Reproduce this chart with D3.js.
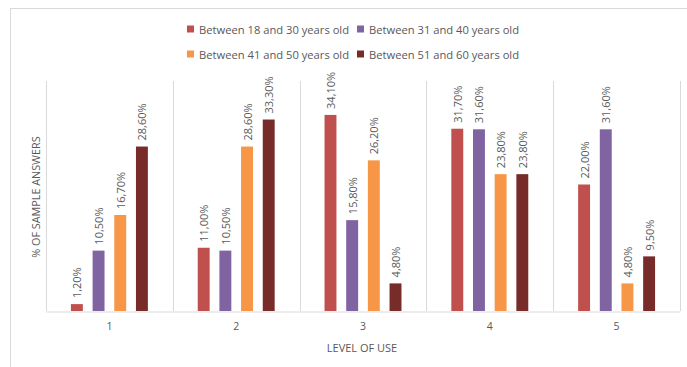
<!DOCTYPE html>
<html>
<head>
<meta charset="utf-8">
<script src="https://cdn.jsdelivr.net/npm/d3@7"></script>
<style>
  html, body { margin: 0; padding: 0; background: #ffffff; }
  svg { display: block; font-family: "Open Sans", "Liberation Sans", sans-serif; }
</style>
</head>
<body>
<svg id="chart" width="687" height="367"></svg>
<script>
// Level of use categories and age-group series
const levels = ["1", "2", "3", "4", "5"];
const seriesNames = [
  "Between 18 and 30 years old",
  "Between 31 and 40 years old",
  "Between 41 and 50 years old",
  "Between 51 and 60 years old"
];
const seriesColors = ["#C0504D", "#8064A2", "#F79646", "#772C2A"];

// Percentage of answers per age group, one value per level
const age18to30 = [1.2, 11.0, 34.1, 31.7, 22.0];
const age31to40 = [10.5, 10.5, 15.8, 31.6, 31.6];
const age41to50 = [16.7, 28.6, 26.2, 23.8, 4.8];
const age51to60 = [28.6, 33.3, 4.8, 23.8, 9.5];
const seriesValues = [age18to30, age31to40, age41to50, age51to60];

const yMax = 40;

const svg = d3.select("#chart");
const grid = "#d9d9d9";
const textColor = "#595959";

// Outer frame
svg.append("rect")
  .attr("x", 10.5).attr("y", 8.5)
  .attr("width", 720).attr("height", 400)
  .attr("fill", "none").attr("stroke", grid).attr("stroke-width", 1);

const plot = { left: 46, right: 680, top: 81, bottom: 311 };

const x0 = d3.scaleBand().domain(levels).range([plot.left, plot.right]).padding(0);
const x1 = d3.scaleBand().domain(d3.range(seriesNames.length))
  .range([0, x0.bandwidth()])
  .paddingInner(0.45).paddingOuter(1.15);
const y = d3.scaleLinear().domain([0, yMax]).range([plot.bottom, plot.top]);

// Category separators
const bounds = levels.map(l => x0(l)).concat([plot.right]);
svg.append("g").selectAll("line").data(bounds).join("line")
  .attr("x1", d => Math.round(d) + 0.5).attr("x2", d => Math.round(d) + 0.5)
  .attr("y1", plot.top).attr("y2", plot.bottom)
  .attr("stroke", grid).attr("stroke-width", 1);

// Bottom axis with category labels
const xAxis = svg.append("g")
  .attr("transform", `translate(0,${plot.bottom + 0.5})`)
  .call(d3.axisBottom(x0).tickSize(0).tickPadding(11));
xAxis.select(".domain").attr("stroke", grid);
xAxis.selectAll("text")
  .attr("fill", textColor)
  .style("font-size", "10.5px")
  .style("font-family", "'Open Sans', sans-serif");

// Bars and value labels
const rows = [];
levels.forEach((lvl, i) => {
  seriesValues.forEach((vals, s) => rows.push({ lvl, s, v: vals[i] }));
});

const fmt = v => v.toFixed(2).replace(".", ",") + "%";

svg.append("g").selectAll("rect").data(rows).join("rect")
  .attr("x", d => x0(d.lvl) + x1(d.s))
  .attr("width", x1.bandwidth())
  .attr("y", d => y(d.v))
  .attr("height", d => y(0) - y(d.v))
  .attr("fill", d => seriesColors[d.s]);

svg.append("g").selectAll("text").data(rows).join("text")
  .attr("transform", d => `translate(${x0(d.lvl) + x1(d.s) + x1.bandwidth() / 2},${y(d.v) - 6}) rotate(-90)`)
  .attr("text-anchor", "start")
  .attr("dominant-baseline", "central")
  .attr("fill", textColor)
  .style("font-size", "11px")
  .text(d => fmt(d.v));

// Axis titles
svg.append("text")
  .attr("transform", `translate(35,197) rotate(-90)`)
  .attr("text-anchor", "middle")
  .attr("dominant-baseline", "central")
  .attr("fill", textColor)
  .style("font-size", "10.8px")
  .text("% OF SAMPLE ANSWERS");

svg.append("text")
  .attr("x", 362).attr("y", 347)
  .attr("text-anchor", "middle")
  .attr("dominant-baseline", "central")
  .attr("fill", textColor)
  .style("font-size", "11px")
  .text("LEVEL OF USE");

// Legend, two rows of two entries
const legendPos = [[187, 29], [357, 29], [187, 54], [357, 54]];
const legend = svg.append("g").selectAll("g").data(seriesNames).join("g")
  .attr("transform", (d, i) => `translate(${legendPos[i][0]},${legendPos[i][1]})`);
legend.append("rect")
  .attr("x", 0).attr("y", -3.5).attr("width", 7).attr("height", 7)
  .attr("fill", (d, i) => seriesColors[i]);
legend.append("text")
  .attr("x", 12).attr("y", 0)
  .attr("dominant-baseline", "central")
  .attr("fill", textColor)
  .style("font-size", "11.2px")
  .text(d => d);
</script>
</body>
</html>
